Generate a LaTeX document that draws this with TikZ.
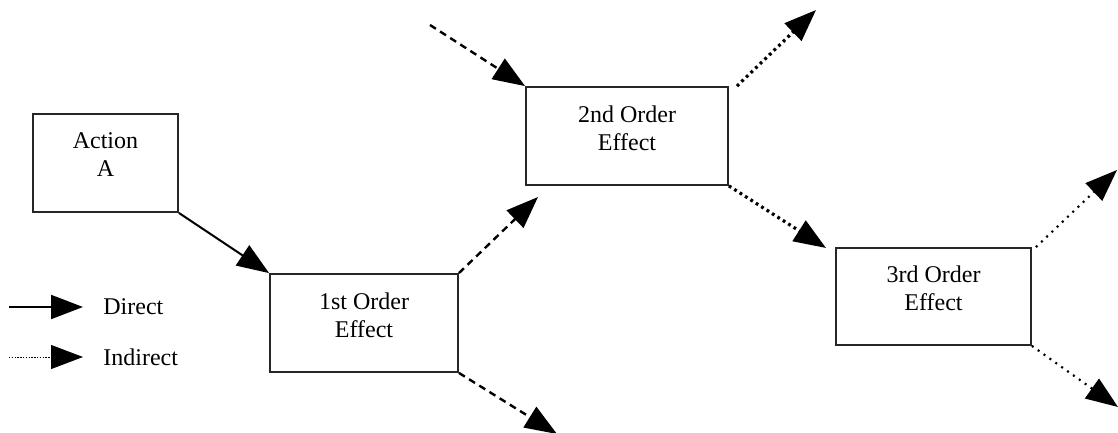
\documentclass[tikz,border=0pt]{standalone}
\usepackage{fontspec}
\setmainfont{Liberation Serif}
\usetikzlibrary{arrows.meta,positioning}
\newcommand{\lowpad}{\rule[-8pt]{0pt}{8pt}}

\begin{document}
\begin{tikzpicture}[
  x=0.5pt,y=-0.5pt,
  effect/.style={draw=black!85,line width=.9pt,align=center,
    font=\fontsize{12}{14}\selectfont,inner sep=0pt},
  legendtext/.style={font=\fontsize{12}{14}\selectfont,inner sep=0pt,anchor=west},
  direct/.style={draw=black,line width=1pt,-{Triangle[length=16pt,width=12pt]}},
  dashedlink/.style={direct,line width=1.2pt,dash pattern=on 3.5pt off 2.5pt},
  dottedlink/.style={direct,line width=1.6pt,dash pattern=on 1.4pt off 1.8pt},
  thindotted/.style={direct,line width=1.1pt,dash pattern=on 1pt off 2.6pt},
  legenddots/.style={direct,line width=.5pt,dash pattern=on .7pt off .7pt}]

\useasboundingbox (0,0) rectangle (1118,433);

\node[effect,minimum width=72.5pt,minimum height=49pt] (action) at (105.5,163)
  {Action\\A\lowpad};
\node[effect,minimum width=94pt,minimum height=49pt] (first) at (364,323)
  {1st Order\\Effect\lowpad};
\node[effect,minimum width=101pt,minimum height=49pt] (second) at (627,136)
  {2nd Order\\Effect\lowpad};
\node[effect,minimum width=97.5pt,minimum height=48.5pt] (third) at (933.5,296.5)
  {3rd Order\\Effect\lowpad};

% open ends
\coordinate (in2) at (430,25);
\coordinate (out1u) at (538,197);
\coordinate (out1d) at (557,434);
\coordinate (out2u) at (816,10);
\coordinate (out2d) at (826,248);
\coordinate (out3u) at (1117,170);
\coordinate (out3d) at (1118,407);

\draw[direct] (action.south east) -- (first.north west);
\draw[dashedlink] (first.north east) -- (out1u);
\draw[dashedlink] (first.south east) -- (out1d);
\draw[dashedlink] (in2) -- (second.north west);
\draw[dottedlink] ([xshift=4pt]second.north east) -- (out2u);
\draw[dottedlink] (second.south east) -- (out2d);
\draw[thindotted] ([xshift=2pt]third.north east) -- (out3u);
\draw[thindotted] (third.south east) -- (out3d);

% legend
\coordinate (dstart) at (9,307);
\coordinate (dend) at (83,307);
\coordinate (istart) at (9,357);
\coordinate (iend) at (83,357);
\draw[direct] (dstart) -- (dend);
\draw[legenddots] (istart) -- (iend);
\node[legendtext,right=10pt of dend] (directlbl) {Direct};
\node[legendtext,right=10pt of iend] (indirectlbl) {Indirect};
\end{tikzpicture}
\end{document}
